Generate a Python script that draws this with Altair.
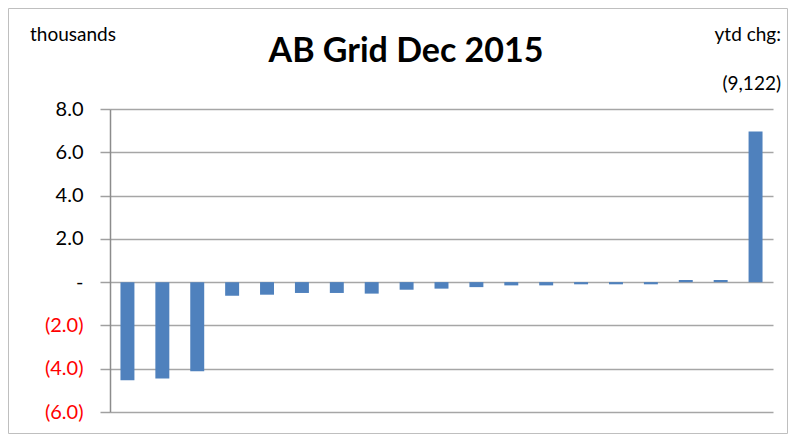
import altair as alt
import pandas as pd

categories = ["A", "B", "C", "D", "E", "F", "G", "H", "I", "J",
              "K", "L", "M", "N", "O", "P", "Q", "R", "S"]
values = [-4.53, -4.45, -4.12, -0.63, -0.58, -0.50, -0.50, -0.53, -0.35, -0.30,
          -0.23, -0.15, -0.15, -0.10, -0.10, -0.10, 0.10, 0.10, 6.96]
y_ticks = [-6, -4, -2, 0, 2, 4, 6, 8]

title_text = "AB Grid Dec 2015"
unit_text = "thousands"
ytd_label = "ytd chg:"
ytd_value = "(9,122)"

FONT = "Lato"
W, H = 663, 303
PAD = {"left": 102, "top": 101, "right": 15, "bottom": 22}

df = pd.DataFrame({"cat": categories, "value": values})

label_expr = (
    "datum.value == 0 ? '-\u00a0\u00a0' : "
    "(datum.value < 0 ? '(' + format(-datum.value, '.1f') + ')' : "
    "format(datum.value, '.1f') + '\u00a0')"
)

frame = alt.Chart(alt.Data(values=[{}])).mark_rect(
    filled=False, stroke="#BFBFBF", strokeWidth=1
).encode(
    x=alt.value(-PAD["left"] + 0.5),
    x2=alt.value(W + PAD["right"] - 0.5),
    y=alt.value(-PAD["top"] + 0.5),
    y2=alt.value(H + PAD["bottom"] - 0.5),
)

bars = alt.Chart(df).mark_bar(color="#4F81BD").encode(
    x=alt.X("cat:N", sort=None, axis=None,
            scale=alt.Scale(paddingInner=0.6, paddingOuter=0.3)),
    y=alt.Y("value:Q",
            scale=alt.Scale(domain=[-6, 8], nice=False, zero=False),
            axis=alt.Axis(
                values=y_ticks,
                labelExpr=label_expr,
                labelColor={"condition": {"test": "datum.value < 0", "value": "#FF0000"},
                            "value": "#000000"},
                labelFont=FONT, labelFontSize=20, labelPadding=17,
                labelBaseline="middle",
                tickSize=10, tickColor="#A0A0A0", tickWidth=1.5,
                domainColor="#8C8C8C", domainWidth=1.5,
                gridColor="#A6A6A6", gridWidth=1.5,
                title=None,
            )),
)

def label(text, x, y, size, align, bold=False):
    return alt.Chart(pd.DataFrame({"t": [text]})).mark_text(
        font=FONT, fontSize=size, align=align, baseline="alphabetic",
        fontWeight="bold" if bold else "normal", color="#000000"
    ).encode(text="t:N", x=alt.value(x), y=alt.value(y))

t_title = label(title_text, 296, 62 - 8 - PAD["top"], 34, "center", bold=True)
t_unit = label(unit_text, 30 - 8 - PAD["left"], 41 - 8 - PAD["top"], 19, "left")
t_ytd = label(ytd_label, 781 - 8 - PAD["left"], 41 - 8 - PAD["top"], 19, "right")
t_val = label(ytd_value, 781 - 8 - PAD["left"], 90 - 8 - PAD["top"], 19, "right")

chart = alt.layer(frame, bars, t_title, t_unit, t_ytd, t_val).properties(
    width=W, height=H,
    padding=PAD,
    autosize=alt.AutoSizeParams(type="none"),
    background="white",
).configure_view(stroke=None)

chart.save("out.html", embed_options={"renderer": "svg", "actions": False})
